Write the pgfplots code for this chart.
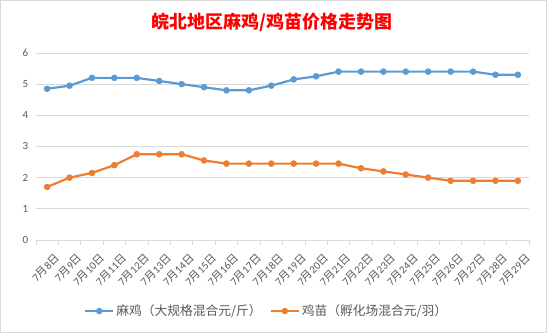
\documentclass[border=0pt]{standalone}
\usepackage{pgfplots}
\pgfplotsset{compat=1.18}
\usepackage{fontspec}
\setmainfont{Carlito}
\newfontfamily\cjk{Noto Sans CJK SC}
\definecolor{sblue}{HTML}{5B9BD5}
\definecolor{sorange}{HTML}{ED7D31}
\definecolor{gridc}{HTML}{D9D9D9}
\definecolor{lbl}{HTML}{595959}
\newcommand\md[1]{7{\cjk 月}#1{\cjk 日}}
\pgfplotstableread{
x y
0 4.85
1 4.95
2 5.2
3 5.2
4 5.2
5 5.1
6 5.0
7 4.9
8 4.8
9 4.8
10 4.95
11 5.15
12 5.25
13 5.4
14 5.4
15 5.4
16 5.4
17 5.4
18 5.4
19 5.4
20 5.3
21 5.3
}\maji
\pgfplotstableread{
x y
0 1.7
1 2.0
2 2.15
3 2.4
4 2.75
5 2.75
6 2.75
7 2.55
8 2.45
9 2.45
10 2.45
11 2.45
12 2.45
13 2.45
14 2.3
15 2.2
16 2.1
17 2.0
18 1.9
19 1.9
20 1.9
21 1.9
}\jimiao
\begin{document}
\begin{tikzpicture}
\draw[gridc, line width=0.8bp] (0.5bp,0.5bp) rectangle (546.5bp,332.5bp);
\node[text=red, font=\cjk\bfseries\fontsize{18}{20}\selectfont] at (272bp,311bp) {皖北地区麻鸡/鸡苗价格走势图};
\begin{axis}[at={(36bp,93bp)}, anchor=south west, width=493bp, height=187bp, scale only axis,
 xmin=-0.5, xmax=21.5, ymin=0, ymax=6, ytick={0,...,6},
 xtick={0,...,21},
 xticklabels={\md{8},\md{9},\md{10},\md{11},\md{12},\md{13},\md{14},\md{15},\md{16},\md{17},\md{18},\md{19},\md{20},\md{21},\md{22},\md{23},\md{24},\md{25},\md{26},\md{27},\md{28},\md{29}},
 minor xtick={-0.5,0.5,...,21.5},
 major x tick style={draw=none},
 minor tick length=5bp,
 tick align=outside,
 axis x line*=bottom, axis y line*=left,
 x axis line style={draw=gridc, line width=0.8bp, -},
 y axis line style={draw=none},
 ytick style={draw=none},
 xtick pos=bottom,
 minor x tick style={draw=gridc, line width=0.8bp},
 ymajorgrids, grid style={gridc, line width=0.8bp},
 xticklabel style={rotate=45, anchor=north east, font=\fontsize{11}{12}\selectfont, text=lbl, inner sep=0bp, xshift=-1bp, yshift=-11bp},
 yticklabel style={font=\fontsize{11}{12}\selectfont, text=lbl},
 /pgf/number format/assume math mode=true,
 legend columns=2,
 legend style={at={(axis description cs:0.468,-0.38)}, anchor=center, draw=none, fill=none,
   font=\cjk\fontsize{12.8}{14}\selectfont, text=lbl, /tikz/every even column/.append style={column sep=6bp}},
 legend image code/.code={\draw[#1, mark repeat=2, mark phase=2] plot coordinates {(0bp,0bp) (14bp,0bp) (28bp,0bp)};},
]
\addplot[sblue, line width=2.2bp, mark=*, mark size=3bp, mark options={fill=sblue, draw=sblue, line width=0.5bp}] table[x=x,y=y]{\maji};
\addlegendentry{麻鸡（大规格混合元/斤）}
\addplot[sorange, line width=2.2bp, mark=*, mark size=3bp, mark options={fill=sorange, draw=sorange, line width=0.5bp}] table[x=x,y=y]{\jimiao};
\addlegendentry{鸡苗（孵化场混合元/羽）}
\end{axis}
\end{tikzpicture}
\end{document}
